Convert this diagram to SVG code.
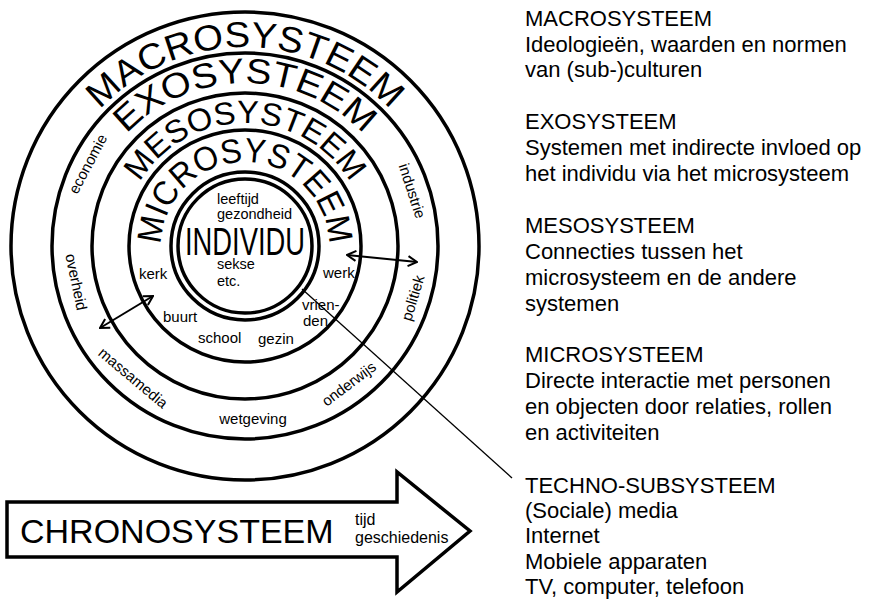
<svg xmlns="http://www.w3.org/2000/svg" width="884" height="599" viewBox="0 0 884 599">
<style>
text{font-family:"Liberation Sans",Arial,sans-serif;fill:#000}
.ring{fill:none;stroke:#000;stroke-width:3.5}
.sm{font-size:15px}
.in{font-size:14.5px}
.leg{font-size:22px}
.conn{fill:none;stroke:#000;stroke-width:2}
</style>
<defs>
<path id="pMacro" d="M245,445 A199,199 0 1 1 245,47 A199,199 0 1 1 245,445"/>
<path id="pExo" d="M245,409 A163,163 0 1 1 245,83 A163,163 0 1 1 245,409"/>
<path id="pMeso" d="M245,369 A123,123 0 1 1 245,123 A123,123 0 1 1 245,369"/>
<path id="pMicro" d="M245,330 A84,84 0 1 1 245,162 A84,84 0 1 1 245,330"/>
<marker id="ah" viewBox="0 0 12 12" refX="11" refY="6" markerWidth="12" markerHeight="12" markerUnits="userSpaceOnUse" orient="auto-start-reverse">
<path d="M2,1 L11,6 L2,11" fill="none" stroke="#000" stroke-width="2"/>
</marker>
</defs>
<rect width="884" height="599" fill="#fff"/>

<g id="macrosysteem">
<circle class="ring" cx="245" cy="246" r="234"/>
<text style="font-size:36px"><textPath href="#pMacro" startOffset="50%" text-anchor="middle" textLength="325" lengthAdjust="spacingAndGlyphs">MACROSYSTEEM</textPath></text>
</g>

<g id="exosysteem">
<circle class="ring" cx="245" cy="246" r="193"/>
<text style="font-size:35px"><textPath href="#pExo" startOffset="50%" text-anchor="middle" textLength="265" lengthAdjust="spacingAndGlyphs">EXOSYSTEEM</textPath></text>
<text class="sm" text-anchor="middle" dy="5" transform="translate(88,164) rotate(-62)">economie</text>
<text class="sm" text-anchor="middle" dy="5" transform="translate(412,191) rotate(72)">industrie</text>
<text class="sm" text-anchor="middle" dy="5" transform="translate(76,282) rotate(78)">overheid</text>
<text class="sm" text-anchor="middle" dy="5" transform="translate(413,298) rotate(-73)">politiek</text>
<text class="sm" text-anchor="middle" dy="5" transform="translate(133,378) rotate(40)">massamedia</text>
<text class="sm" text-anchor="middle" dy="5" transform="translate(253,419)">wetgeving</text>
<text class="sm" text-anchor="middle" dy="5" transform="translate(349,384) rotate(-37)">onderwijs</text>
</g>

<g id="mesosysteem">
<circle class="ring" cx="245" cy="246" r="153"/>
<text style="font-size:32px"><textPath href="#pMeso" startOffset="50%" text-anchor="middle" textLength="252" lengthAdjust="spacingAndGlyphs">MESOSYSTEEM</textPath></text>
</g>

<g id="microsysteem">
<circle class="ring" cx="245" cy="246" r="116"/>
<text style="font-size:34px"><textPath href="#pMicro" startOffset="50%" text-anchor="middle" textLength="260" lengthAdjust="spacingAndGlyphs">MICROSYSTEEM</textPath></text>
<text class="sm" x="139" y="279">kerk</text>
<text class="sm" x="323" y="278">werk</text>
<text class="sm" x="163" y="322">buurt</text>
<text class="sm" x="198" y="343">school</text>
<text class="sm" x="258" y="344">gezin</text>
<text class="sm" x="302" y="310">vrien-</text>
<text class="sm" x="303" y="326">den</text>
</g>

<g id="individu">
<circle class="ring" cx="245" cy="246" r="74"/>
<circle class="ring" cx="245" cy="246" r="67"/>
<text class="in" x="217" y="204">leeftijd</text>
<text class="in" x="217" y="219">gezondheid</text>
<text x="185" y="255" style="font-size:38px" textLength="120" lengthAdjust="spacingAndGlyphs">INDIVIDU</text>
<text class="in" x="217" y="269">sekse</text>
<text class="in" x="217" y="286">etc.</text>
</g>

<g id="chronosysteem">
<path d="M7,502 L397,502 L397,472 L470,531 L397,592 L397,557 L7,557 Z" fill="#fff" stroke="#000" stroke-width="3.5" stroke-linejoin="miter"/>
<text x="20" y="543" style="font-size:34px">CHRONOSYSTEEM</text>
<text x="355" y="525" style="font-size:16px">tijd</text>
<text x="355" y="543" style="font-size:16px">geschiedenis</text>
</g>

<g id="connectors">
<line class="conn" x1="100" y1="328" x2="153" y2="296" marker-start="url(#ah)" marker-end="url(#ah)"/>
<line class="conn" x1="347" y1="255" x2="417" y2="262" marker-start="url(#ah)" marker-end="url(#ah)"/>
<line x1="302" y1="289" x2="512" y2="478" stroke="#000" stroke-width="1.3"/>
</g>

<g id="legend">
<g id="leg-macro">
<text class="leg" x="525" y="26">MACROSYSTEEM</text>
<text class="leg" x="525" y="52">Ideologieën, waarden en normen</text>
<text class="leg" x="525" y="77">van (sub-)culturen</text>
</g>
<g id="leg-exo">
<text class="leg" x="525" y="129">EXOSYSTEEM</text>
<text class="leg" x="525" y="155">Systemen met indirecte invloed op</text>
<text class="leg" x="525" y="181">het individu via het microsysteem</text>
</g>
<g id="leg-meso">
<text class="leg" x="525" y="233">MESOSYSTEEM</text>
<text class="leg" x="525" y="259">Connecties tussen het</text>
<text class="leg" x="525" y="285">microsysteem en de andere</text>
<text class="leg" x="525" y="311">systemen</text>
</g>
<g id="leg-micro">
<text class="leg" x="525" y="362">MICROSYSTEEM</text>
<text class="leg" x="525" y="388">Directe interactie met personen</text>
<text class="leg" x="525" y="414">en objecten door relaties, rollen</text>
<text class="leg" x="525" y="440">en activiteiten</text>
</g>
<g id="leg-techno">
<text class="leg" x="525" y="493">TECHNO-SUBSYSTEEM</text>
<text class="leg" x="525" y="518">(Sociale) media</text>
<text class="leg" x="525" y="543">Internet</text>
<text class="leg" x="525" y="569">Mobiele apparaten</text>
<text class="leg" x="525" y="594">TV, computer, telefoon</text>
</g>
</g>
</svg>
